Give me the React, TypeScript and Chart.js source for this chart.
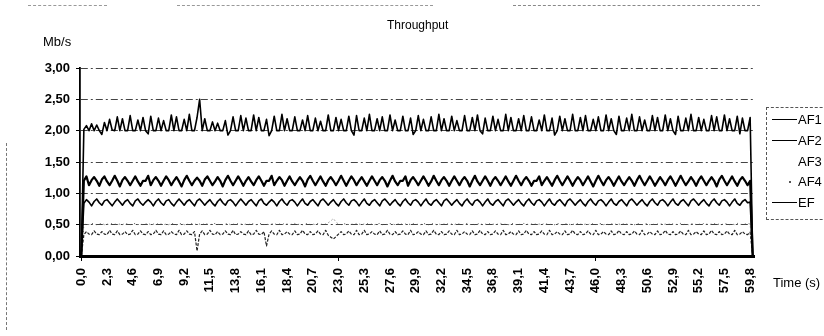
import React, { useEffect, useRef } from "react";
import { Chart, registerables } from "chart.js";
Chart.register(...registerables);

const TICK_LABELS = ["0,0","2,3","4,6","6,9","9,2","11,5","13,8","16,1","18,4","20,7","23,0","25,3","27,6","29,9","32,2","34,5","36,8","39,1","41,4","43,7","46,0","48,3","50,6","52,9","55,2","57,5","59,8"];
const LABEL_EVERY = 10;
const SERIES_NAMES = ["AF1", "AF2", "AF3", "AF4", "EF"];

const AF1 = [
0,2.02,2.08,2.00,2.11,2.00,2.09,2.00,1.94,2.13,
2.00,2.18,2.01,2.00,2.22,2.00,2.19,2.00,2.00,2.24,
2.00,2.00,2.17,2.00,2.21,2.00,1.95,2.23,2.00,2.00,
2.20,2.00,2.16,2.00,2.00,2.25,2.00,2.22,2.00,2.00,
2.18,2.00,2.26,2.00,2.00,2.21,2.50,2.00,2.19,2.00,
2.00,2.14,2.00,2.12,2.00,2.00,2.16,1.93,2.00,2.22,
2.00,2.00,2.24,2.00,2.20,2.00,2.00,2.25,2.00,2.21,
2.00,2.00,2.18,1.92,2.00,2.23,2.00,2.00,2.26,2.00,
2.19,2.00,2.00,2.22,2.00,2.00,2.17,2.00,2.24,2.00,
2.00,2.20,2.00,2.15,2.00,2.00,2.25,2.00,2.00,2.21,
2.00,2.18,2.00,2.00,2.23,2.00,1.93,2.24,2.00,2.00,
2.20,2.00,2.26,2.00,2.00,2.19,2.00,2.22,2.00,2.00,
2.25,2.00,2.17,2.00,2.00,2.23,2.00,2.00,2.20,1.94,
2.00,2.24,2.00,2.18,2.00,2.00,2.22,2.00,2.00,2.26,
2.00,2.19,2.00,2.00,2.23,2.00,2.16,2.00,2.00,2.24,
2.00,2.00,2.21,2.00,2.25,2.00,1.95,2.20,2.00,2.00,
2.23,2.00,2.18,2.00,2.00,2.26,2.00,2.21,2.00,2.00,
2.19,2.00,2.24,2.00,2.00,2.22,2.00,2.00,2.17,2.00,
2.25,2.00,2.00,2.20,1.93,2.00,2.23,2.00,2.19,2.00,
2.00,2.26,2.00,2.00,2.21,2.00,2.24,2.00,2.00,2.18,
2.00,2.22,2.00,2.00,2.25,2.00,2.19,2.00,1.94,2.23,
2.00,2.00,2.20,2.00,2.26,2.00,2.00,2.22,2.00,2.17,
2.00,2.00,2.24,2.00,2.21,2.00,2.00,2.25,2.00,2.19,
2.00,1.94,2.23,2.00,2.00,2.20,2.00,2.26,2.00,2.00,
2.21,2.00,2.18,2.00,2.00,2.24,2.00,2.22,2.00,2.00,
2.25,2.00,2.19,2.00,2.00,2.23,1.95,2.20,2.00,2.00,
2.21,0
];

const AF2 = [
0,1.20,1.27,1.13,1.21,1.26,1.20,1.12,1.22,1.27,
1.19,1.13,1.20,1.28,1.20,1.11,1.21,1.26,1.20,1.13,
1.20,1.27,1.19,1.12,1.20,1.20,1.28,1.13,1.21,1.26,
1.20,1.12,1.20,1.27,1.21,1.13,1.20,1.26,1.19,1.11,
1.21,1.28,1.20,1.13,1.20,1.25,1.20,1.12,1.22,1.27,
1.20,1.13,1.19,1.26,1.20,1.11,1.21,1.28,1.20,1.13,
1.20,1.27,1.20,1.12,1.20,1.26,1.19,1.13,1.21,1.27,
1.20,1.12,1.20,1.20,1.28,1.13,1.20,1.26,1.21,1.12,
1.20,1.27,1.19,1.13,1.20,1.26,1.20,1.11,1.22,1.28,
1.20,1.13,1.20,1.27,1.19,1.12,1.21,1.26,1.20,1.13,
1.20,1.28,1.20,1.12,1.20,1.27,1.21,1.13,1.20,1.26,
1.19,1.12,1.20,1.27,1.20,1.13,1.21,1.26,1.20,1.11,
1.20,1.28,1.19,1.13,1.20,1.20,1.27,1.12,1.21,1.26,
1.20,1.13,1.20,1.27,1.20,1.12,1.19,1.28,1.20,1.13,
1.21,1.26,1.20,1.12,1.20,1.27,1.20,1.13,1.21,1.26,
1.20,1.11,1.20,1.28,1.19,1.13,1.20,1.27,1.20,1.12,
1.21,1.26,1.20,1.13,1.20,1.27,1.19,1.12,1.20,1.28,
1.20,1.13,1.21,1.26,1.20,1.12,1.20,1.20,1.27,1.13,
1.20,1.26,1.19,1.12,1.21,1.28,1.20,1.13,1.20,1.27,
1.20,1.12,1.20,1.26,1.21,1.13,1.20,1.27,1.19,1.11,
1.20,1.28,1.20,1.13,1.21,1.26,1.20,1.12,1.20,1.27,
1.19,1.13,1.20,1.26,1.20,1.12,1.21,1.28,1.20,1.13,
1.20,1.27,1.20,1.12,1.19,1.26,1.20,1.13,1.21,1.27,
1.20,1.12,1.20,1.28,1.20,1.13,1.19,1.26,1.20,1.12,
1.21,1.27,1.20,1.13,1.20,1.26,1.20,1.11,1.22,1.28,
1.20,1.13,1.20,1.27,1.19,1.12,1.21,1.26,1.20,1.13,
1.20,0
];

const AF3 = [
0,0.34,0.39,0.35,0.34,0.40,0.35,0.34,0.39,0.35,
0.34,0.41,0.35,0.34,0.40,0.34,0.35,0.39,0.34,0.35,
0.41,0.34,0.35,0.40,0.35,0.34,0.39,0.34,0.35,0.41,
0.35,0.34,0.40,0.34,0.35,0.39,0.35,0.34,0.41,0.34,
0.35,0.40,0.35,0.34,0.39,0.08,0.35,0.40,0.34,0.35,
0.41,0.35,0.34,0.39,0.34,0.35,0.40,0.35,0.34,0.41,
0.34,0.35,0.39,0.35,0.34,0.40,0.34,0.35,0.41,0.35,
0.34,0.39,0.16,0.35,0.40,0.35,0.34,0.41,0.34,0.35,
0.39,0.35,0.34,0.40,0.34,0.35,0.41,0.35,0.34,0.39,
0.34,0.35,0.40,0.35,0.34,0.41,0.33,0.30,0.27,0.31,
0.35,0.39,0.34,0.35,0.40,0.35,0.34,0.41,0.34,0.35,
0.41,0.34,0.35,0.39,0.35,0.34,0.40,0.34,0.35,0.41,
0.35,0.34,0.39,0.34,0.35,0.40,0.35,0.34,0.41,0.34,
0.35,0.39,0.35,0.34,0.40,0.34,0.35,0.41,0.35,0.34,
0.39,0.34,0.35,0.40,0.35,0.34,0.41,0.34,0.35,0.39,
0.35,0.34,0.40,0.34,0.35,0.41,0.35,0.34,0.39,0.34,
0.35,0.40,0.35,0.34,0.41,0.34,0.35,0.39,0.35,0.34,
0.40,0.34,0.35,0.41,0.35,0.34,0.39,0.34,0.35,0.40,
0.35,0.34,0.41,0.34,0.35,0.39,0.35,0.34,0.40,0.34,
0.35,0.41,0.35,0.34,0.39,0.34,0.35,0.40,0.35,0.34,
0.41,0.34,0.35,0.39,0.35,0.34,0.40,0.34,0.35,0.41,
0.35,0.34,0.39,0.34,0.35,0.40,0.35,0.34,0.41,0.34,
0.35,0.39,0.35,0.34,0.40,0.34,0.35,0.41,0.35,0.34,
0.39,0.34,0.35,0.40,0.35,0.34,0.41,0.34,0.35,0.39,
0.35,0.34,0.40,0.34,0.35,0.41,0.35,0.34,0.39,0.34,
0.35,0.40,0.35,0.34,0.41,0.34,0.35,0.39,0.35,0.34,
0.38,0
];

const AF4 = [
0,0.50,0.51,0.50,0.52,0.51,0.50,0.51,0.52,0.50,
0.51,0.50,0.52,0.51,0.50,0.51,0.50,0.52,0.51,0.50,
0.51,0.52,0.50,0.51,0.50,0.51,0.52,0.50,0.51,0.50,
0.52,0.51,0.50,0.51,0.50,0.52,0.51,0.50,0.51,0.52,
0.50,0.51,0.50,0.52,0.51,0.50,0.51,0.50,0.52,0.51,
0.50,0.51,0.52,0.50,0.51,0.50,0.51,0.52,0.50,0.51,
0.50,0.52,0.51,0.50,0.51,0.50,0.52,0.51,0.50,0.51,
0.52,0.50,0.51,0.50,0.51,0.52,0.50,0.51,0.50,0.52,
0.51,0.50,0.51,0.52,0.50,0.51,0.50,0.51,0.52,0.50,
0.51,0.50,0.52,0.51,0.50,0.51,0.53,0.56,0.60,0.54,
0.51,0.50,0.51,0.52,0.50,0.51,0.50,0.52,0.51,0.50,
0.51,0.52,0.50,0.51,0.50,0.51,0.52,0.50,0.51,0.50,
0.52,0.51,0.50,0.51,0.52,0.50,0.51,0.50,0.51,0.52,
0.50,0.51,0.50,0.52,0.51,0.50,0.51,0.52,0.50,0.51,
0.50,0.51,0.52,0.50,0.51,0.50,0.52,0.51,0.50,0.51,
0.52,0.50,0.51,0.50,0.51,0.52,0.50,0.51,0.50,0.52,
0.51,0.50,0.51,0.52,0.50,0.51,0.50,0.51,0.52,0.50,
0.51,0.50,0.52,0.51,0.50,0.51,0.52,0.50,0.51,0.50,
0.52,0.51,0.50,0.51,0.50,0.52,0.51,0.50,0.51,0.52,
0.50,0.51,0.50,0.52,0.51,0.50,0.51,0.50,0.52,0.51,
0.50,0.51,0.52,0.50,0.51,0.50,0.51,0.52,0.50,0.51,
0.50,0.52,0.51,0.50,0.51,0.50,0.52,0.51,0.50,0.51,
0.52,0.50,0.51,0.50,0.51,0.52,0.50,0.51,0.50,0.52,
0.51,0.50,0.51,0.52,0.50,0.51,0.50,0.51,0.52,0.50,
0.51,0.50,0.52,0.51,0.50,0.51,0.52,0.50,0.51,0.50,
0.52,0.51,0.50,0.51,0.50,0.52,0.51,0.50,0.51,0.52,
0.51,0
];

const EF = [
0,0.84,0.90,0.86,0.80,0.87,0.91,0.85,0.81,0.88,
0.90,0.85,0.80,0.86,0.91,0.86,0.81,0.87,0.90,0.84,
0.80,0.88,0.91,0.85,0.81,0.86,0.90,0.86,0.80,0.87,
0.91,0.85,0.81,0.88,0.90,0.84,0.80,0.86,0.91,0.86,
0.81,0.87,0.90,0.85,0.80,0.88,0.91,0.86,0.81,0.86,
0.90,0.84,0.80,0.87,0.91,0.85,0.81,0.88,0.90,0.86,
0.80,0.86,0.91,0.86,0.81,0.87,0.90,0.85,0.80,0.88,
0.91,0.84,0.81,0.86,0.90,0.86,0.80,0.87,0.91,0.85,
0.81,0.88,0.90,0.86,0.80,0.86,0.91,0.84,0.81,0.87,
0.90,0.85,0.80,0.88,0.91,0.86,0.81,0.86,0.90,0.84,
0.80,0.87,0.91,0.85,0.81,0.88,0.90,0.86,0.80,0.86,
0.91,0.84,0.81,0.87,0.90,0.85,0.80,0.88,0.91,0.86,
0.81,0.86,0.90,0.84,0.80,0.87,0.91,0.85,0.81,0.88,
0.90,0.86,0.80,0.86,0.91,0.84,0.81,0.87,0.90,0.85,
0.80,0.88,0.91,0.86,0.81,0.86,0.90,0.84,0.80,0.87,
0.91,0.85,0.81,0.88,0.90,0.86,0.80,0.86,0.91,0.84,
0.81,0.87,0.90,0.85,0.80,0.88,0.91,0.86,0.81,0.86,
0.90,0.84,0.80,0.87,0.91,0.85,0.81,0.88,0.90,0.86,
0.80,0.86,0.91,0.84,0.81,0.87,0.90,0.85,0.80,0.88,
0.91,0.86,0.81,0.86,0.90,0.84,0.80,0.87,0.91,0.85,
0.81,0.88,0.90,0.86,0.80,0.86,0.91,0.84,0.81,0.87,
0.90,0.85,0.80,0.88,0.91,0.86,0.81,0.86,0.90,0.84,
0.80,0.87,0.91,0.85,0.81,0.88,0.90,0.86,0.80,0.86,
0.91,0.84,0.81,0.87,0.90,0.85,0.80,0.88,0.91,0.86,
0.81,0.86,0.90,0.84,0.80,0.87,0.91,0.85,0.81,0.88,
0.90,0.86,0.80,0.86,0.91,0.84,0.81,0.87,0.90,0.85,
0.86,0
];

const FONT = "'Liberation Sans', Arial, Helvetica, sans-serif";

export default function App() {
  const canvasRef = useRef<HTMLCanvasElement | null>(null);

  useEffect(() => {
    document.body.style.margin = "0";
    const canvas = canvasRef.current;
    if (!canvas) return;
    Chart.defaults.font.family = FONT;
    const labels = AF1.map((_, i) => String(i));
    const chart = new Chart(canvas, {
      type: "line",
      data: {
        labels,
        datasets: [
          { label: SERIES_NAMES[0], data: AF1, borderColor: "#000", borderWidth: 1.6 },
          { label: SERIES_NAMES[1], data: AF2, borderColor: "#000", borderWidth: 2.2 },
          { label: SERIES_NAMES[2], data: AF3, borderColor: "#222", borderWidth: 1.2, borderDash: [3, 1.5] },
          { label: SERIES_NAMES[3], data: AF4, borderColor: "#555", borderWidth: 1, borderDash: [1, 3] },
          { label: SERIES_NAMES[4], data: EF, borderColor: "#000", borderWidth: 1.6 },
        ].map((d) => ({ ...d, pointRadius: 0, tension: 0, fill: false, borderJoinStyle: "round" as const })),
      },
      options: {
        animation: false,
        responsive: false,
        maintainAspectRatio: false,
        events: [],
        layout: { padding: { top: 68, right: 70, bottom: 0, left: 0 } },
        plugins: { legend: { display: false }, title: { display: false }, tooltip: { enabled: false } },
        scales: {
          x: {
            type: "category",
            offset: true,
            afterFit: (s: any) => { s.height = 80; },
            ticks: {
              autoSkip: false,
              minRotation: 90,
              maxRotation: 90,
              padding: 7,
              color: "#000",
              font: { size: 13, family: FONT, weight: "bold" },
              callback: (_v: any, i: number) => (i % LABEL_EVERY === 0 ? TICK_LABELS[i / LABEL_EVERY] : null),
            },
            grid: {
              drawOnChartArea: false,
              tickLength: 5,
              color: (ctx: any) => (ctx.index % LABEL_EVERY === 0 ? "#000" : "rgba(0,0,0,0)"),
              tickColor: (ctx: any) => (ctx.index % LABEL_EVERY === 0 ? "#000" : "rgba(0,0,0,0)"),
            },
            border: { display: true, color: "#000", width: 3 },
          },
          y: {
            min: 0,
            max: 3,
            afterFit: (s: any) => { s.width = 80; },
            ticks: {
              stepSize: 0.5,
              padding: 6,
              color: "#000",
              font: { size: 13, family: FONT, weight: "bold" },
              callback: (v: any) => Number(v).toFixed(2).replace(".", ","),
            },
            grid: { color: "#444", lineWidth: 1, tickLength: 4, tickColor: "#000", tickBorderDash: [] },
            border: { display: true, color: "#000", width: 1.8, dash: [7, 3, 2, 3] },
          },
        },
      },
    });
    return () => chart.destroy();
  }, []);

  const txt: React.CSSProperties = { position: "absolute", fontFamily: FONT, color: "#000", whiteSpace: "nowrap", lineHeight: "1" };
  const legendRows = [
    { name: SERIES_NAMES[0], top: 119, line: "1.5px solid #000" },
    { name: SERIES_NAMES[1], top: 140, line: "1px solid #000" },
    { name: SERIES_NAMES[2], top: 161, line: "none" },
    { name: SERIES_NAMES[3], top: 181, line: "dot" },
    { name: SERIES_NAMES[4], top: 202, line: "1.5px solid #000" },
  ];

  return (
    <div style={{ position: "relative", width: 824, height: 336, overflow: "hidden", background: "#fff" }}>
      <canvas ref={canvasRef} width={824} height={336} style={{ position: "absolute", left: 0, top: 0, width: 824, height: 336 }} />
      {/* scan artifacts */}
      <div style={{ position: "absolute", left: 28, top: 5, width: 79, borderTop: "1px dashed #999" }} />
      <div style={{ position: "absolute", left: 177, top: 5, width: 256, borderTop: "1px dashed #999" }} />
      <div style={{ position: "absolute", left: 513, top: 5, width: 247, borderTop: "1px dashed #888" }} />
      <div style={{ position: "absolute", left: 6, top: 143, height: 187, borderLeft: "1px dashed #777" }} />
      <div style={{ ...txt, left: 387, top: 19, fontSize: 12 }}>Throughput</div>
      <div style={{ ...txt, left: 43, top: 35, fontSize: 13 }}>Mb/s</div>
      <div style={{ ...txt, left: 773, top: 276, fontSize: 13 }}>Time (s)</div>
      <div style={{ position: "absolute", left: 766, top: 107, width: 80, height: 111, borderLeft: "1px dashed #555", borderTop: "1px dashed #555", borderBottom: "1px dashed #555" }} />
      {legendRows.map((r) => (
        <React.Fragment key={r.name}>
          {r.line === "dot" ? (
            <div style={{ position: "absolute", left: 789, top: r.top, width: 2, height: 2, background: "#555" }} />
          ) : r.line !== "none" ? (
            <div style={{ position: "absolute", left: 772, top: r.top, width: 25, borderTop: r.line }} />
          ) : null}
          <div style={{ ...txt, left: 798, top: r.top - 6, fontSize: 13 }}>{r.name}</div>
        </React.Fragment>
      ))}
    </div>
  );
}
